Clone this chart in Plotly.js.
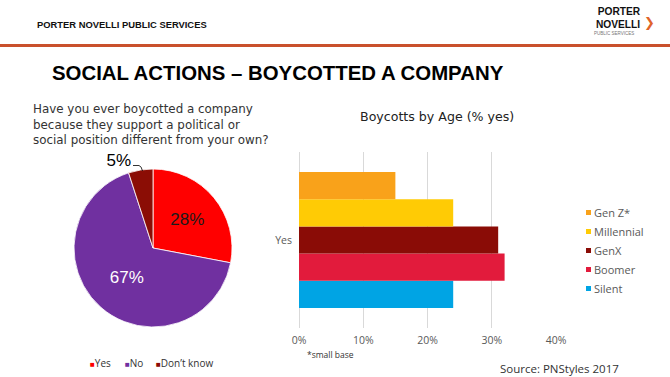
<!DOCTYPE html>
<html>
<head>
<meta charset="utf-8">
<script src="https://cdn.plot.ly/plotly-3.0.1.min.js"></script>
<style>
  html, body { margin: 0; padding: 0; background: #ffffff; }
  #chart { width: 670px; height: 377px; }
</style>
</head>
<body>
<div id="chart"></div>
<script>
// ---- Data ----
const pieLabels = ['Yes', 'No', "Don\u2019t know"];
const pieValues = [28, 67, 5];
const pieColors = ['#FF0000', '#7030A0', '#8B0D05'];

const ageGroups = ['Silent', 'Boomer', 'GenX', 'Millennial', 'Gen Z*'];
const ageValues = [24, 32, 31, 24, 15];
const ageColors = ['#00A4E4', '#E21B3C', '#8A0C06', '#FFCB05', '#F9A21A'];
const barCategory = ['Yes'];
const xTickVals = [0, 10, 20, 30, 40];
const xTickText = ['0%', '10%', '20%', '30%', '40%'];

const questionLines = [
  'Have you ever boycotted a company',
  'because they support a political or',
  'social position different from your own?'
];

// ---- helpers (pixel -> paper) ----
const W = 670, H = 377;
const px = x => x / W;
const py = y => 1 - y / H;

const GOTHAM = '"Open Sans", Lato, sans-serif';
const WIDE = '"DejaVu Sans", "Open Sans", sans-serif';
const ARIAL = '"Liberation Sans", Arial, sans-serif';

const traces = [];

traces.push({
  type: 'pie',
  labels: pieLabels,
  values: pieValues,
  sort: false,
  direction: 'clockwise',
  rotation: 0,
  marker: { colors: pieColors, line: { color: '#ffffff', width: 0.8 } },
  texttemplate: ['%{value}%', '%{value}%', '%{value}%\u00a0'],
  textposition: ['inside', 'inside', 'outside'],
  insidetextorientation: 'horizontal',
  textfont: { family: ARIAL, size: 17, color: ['#1a1a1a', '#ffffff', '#000000'] },
  outsidetextfont: { family: ARIAL, size: 17, color: '#000000' },
  domain: { x: [px(74), px(232)], y: [py(327), py(169)] },
  showlegend: false,
  hoverinfo: 'label+percent'
});

ageGroups.forEach((g, i) => {
  traces.push({
    type: 'bar',
    orientation: 'h',
    name: g,
    y: barCategory,
    x: [ageValues[i]],
    marker: { color: ageColors[i] },
    xaxis: 'x',
    yaxis: 'y'
  });
});

const annotations = [];
// header
annotations.push({ xref: 'paper', yref: 'paper', x: px(35), y: py(25), xanchor: 'left', yanchor: 'middle',
  text: '<b>PORTER NOVELLI PUBLIC SERVICES</b>', showarrow: false,
  font: { family: ARIAL, size: 9.4, color: '#111111' } });
// logo
annotations.push({ xref: 'paper', yref: 'paper', x: px(643), y: py(17.5), xanchor: 'right', yanchor: 'middle',
  align: 'right', text: '<b>PORTER</b><br><b>NOVELLI</b>', showarrow: false,
  font: { family: ARIAL, size: 10.2, color: '#111111' } });
annotations.push({ xref: 'paper', yref: 'paper', x: px(592), y: py(33), xanchor: 'left', yanchor: 'middle',
  text: 'PUBLIC SERVICES', showarrow: false, font: { family: ARIAL, size: 4.5, color: '#777777' } });
annotations.push({ xref: 'paper', yref: 'paper', x: px(649), y: py(23), xanchor: 'center', yanchor: 'middle',
  text: '<b>\u276F</b>', showarrow: false, font: { family: '"DejaVu Sans", sans-serif', size: 13, color: '#E0642A' } });
// main title
annotations.push({ xref: 'paper', yref: 'paper', x: px(50), y: py(73), xanchor: 'left', yanchor: 'middle',
  text: '<b>SOCIAL ACTIONS \u2013 BOYCOTTED A COMPANY</b>', showarrow: false,
  font: { family: ARIAL, size: 20.4, color: '#000000' } });
// question
questionLines.forEach((l, i) => {
  annotations.push({ xref: 'paper', yref: 'paper', x: px(31), y: py(109 + i * 15.5), xanchor: 'left', yanchor: 'middle',
    text: l, showarrow: false, font: { family: WIDE, size: 11.9, color: '#333333' } });
});
// bar chart title
annotations.push({ xref: 'paper', yref: 'paper', x: px(437), y: py(116), xanchor: 'center', yanchor: 'middle',
  text: 'Boycotts by Age (% yes)', showarrow: false, font: { family: WIDE, size: 12.6, color: '#222222' } });
// small base
annotations.push({ xref: 'paper', yref: 'paper', x: px(305), y: py(354), xanchor: 'left', yanchor: 'middle',
  text: '*small base', showarrow: false, font: { family: GOTHAM, size: 8.5, color: '#333333' } });
// source
annotations.push({ xref: 'paper', yref: 'paper', x: px(498), y: py(368.5), xanchor: 'left', yanchor: 'middle',
  text: 'Source: PNStyles 2017', showarrow: false, font: { family: GOTHAM, size: 11.5, color: '#333333' } });
// pie legend (built from pie arrays)
const pieLegendX = [91, 126, 157];
pieLabels.forEach((l, i) => {
  annotations.push({ xref: 'paper', yref: 'paper', x: px(pieLegendX[i] - 3), y: py(363), xanchor: 'left', yanchor: 'middle',
    text: '<span style="color:' + pieColors[i] + ';font-size:8px">\u25A0</span>' + l, showarrow: false,
    font: { family: GOTHAM, size: 10, color: '#333333' } });
});

const shapes = [
  { type: 'rect', xref: 'paper', yref: 'paper', x0: 0, x1: 1, y0: py(47), y1: py(44),
    fillcolor: '#C9502C', line: { width: 0 } },
  // leader line for the small "5%" label
  { type: 'path', xref: 'paper', yref: 'paper',
    path: 'M ' + px(133) + ',' + py(165.5) + ' L ' + px(139) + ',' + py(165.5) + ' Q ' + px(141.5) + ',' + py(166) + ' ' + px(142.5) + ',' + py(171),
    line: { color: '#000000', width: 0.8 } }
];

const layout = {
  width: W, height: H,
  margin: { l: 0, r: 0, t: 0, b: 0 },
  paper_bgcolor: '#ffffff', plot_bgcolor: '#ffffff',
  barmode: 'group', bargap: 0.227, bargroupgap: 0,
  showlegend: true,
  legend: {
    x: px(554), y: py(198), xanchor: 'left', yanchor: 'top',
    traceorder: 'reversed', tracegroupgap: 0, itemwidth: 30,
    font: { family: GOTHAM, size: 11, color: '#595959' },
    bgcolor: 'rgba(0,0,0,0)'
  },
  xaxis: {
    domain: [px(299), px(556)], range: [0, 40], tickmode: 'array', tickvals: xTickVals, ticktext: xTickText,
    showgrid: true, gridcolor: '#D9D9D9', gridwidth: 1, zeroline: true, zerolinecolor: '#D9D9D9', zerolinewidth: 1,
    showline: false, ticks: '', ticklabelstandoff: 4, fixedrange: true,
    tickfont: { family: GOTHAM, size: 10.5, color: '#595959' }, anchor: 'y'
  },
  yaxis: {
    domain: [py(328), py(152)], showgrid: false, zeroline: false, showline: false, ticks: '',
    ticklabelstandoff: 6, fixedrange: true,
    tickfont: { family: GOTHAM, size: 10.5, color: '#595959' }, anchor: 'x'
  },
  annotations: annotations,
  shapes: shapes,
  font: { family: GOTHAM }
};

Plotly.newPlot('chart', traces, layout, { displayModeBar: false, staticPlot: true }).then(gd => {
  // shrink bar legend swatches to small squares next to the text
  document.querySelectorAll('#chart .legend path.legendbar, #chart .legend .legendpoints path').forEach(p => {
    p.setAttribute('d', 'M17,2.5H12V-2.5H17Z');
  });
});
</script>
</body>
</html>
